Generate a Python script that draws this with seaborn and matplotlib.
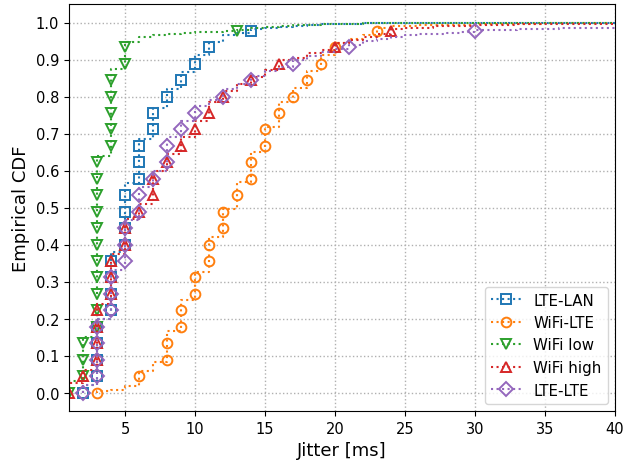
import numpy as np
import pandas as pd
import matplotlib
matplotlib.use("Agg")
import matplotlib.pyplot as plt
import seaborn as sns
from matplotlib.lines import Line2D

# ---------------- data ----------------
series_names = ["LTE-LAN", "WiFi-LTE", "WiFi low", "WiFi high", "LTE-LTE"]

# quantile levels at which markers are drawn
marker_levels = [0.0, 0.044, 0.089, 0.133, 0.178, 0.222, 0.267, 0.311, 0.356,
                 0.4, 0.444, 0.489, 0.533, 0.578, 0.622, 0.667, 0.711, 0.756,
                 0.8, 0.844, 0.889, 0.933, 0.978]

# jitter value at each marker level
lte_lan_mx = [2, 3, 3, 3, 3, 4, 4, 4, 4, 5, 5, 5, 5, 6, 6, 6, 7, 7, 8, 9, 10, 11, 14]
wifi_lte_mx = [3, 6, 8, 8, 9, 9, 10, 10, 11, 11, 12, 12, 13, 14, 14, 15, 15, 16, 17, 18, 19, 20, 23]
wifi_low_mx = [1, 2, 2, 2, 3, 3, 3, 3, 3, 3, 3, 3, 3, 3, 3, 4, 4, 4, 4, 4, 5, 5, 13]
wifi_high_mx = [1, 2, 3, 3, 3, 3, 4, 4, 4, 5, 5, 6, 7, 7, 8, 9, 10, 11, 12, 14, 16, 20, 24]
lte_lte_mx = [2, 3, 3, 3, 3, 4, 4, 4, 5, 5, 5, 6, 6, 7, 8, 8, 9, 10, 12, 14, 17, 21, 30]

# empirical CDF step function: distinct jitter values and cumulative fraction
lte_lan_vals = [2, 3, 4, 5, 6, 7, 8, 9, 10, 11, 12, 13, 14, 15, 16, 17, 18, 19, 20, 22, 25, 30]
lte_lan_cdf = [0.02, 0.2, 0.38, 0.565, 0.685, 0.77, 0.82, 0.865, 0.913, 0.946, 0.965,
               0.972, 0.982, 0.985, 0.988, 0.99, 0.992, 0.995, 0.997, 0.998, 0.999, 1.0]

wifi_lte_vals = [3, 4, 5, 6, 7, 8, 9, 10, 11, 12, 13, 14, 15, 16, 17, 18, 19, 20, 21, 22,
                 23, 24, 26, 30, 35, 40]
wifi_lte_cdf = [0.004, 0.006, 0.017, 0.058, 0.083, 0.165, 0.249, 0.325, 0.419, 0.495,
                0.568, 0.65, 0.717, 0.784, 0.824, 0.868, 0.913, 0.945, 0.955, 0.965,
                0.985, 0.99, 0.993, 0.996, 0.998, 0.999]

wifi_low_vals = [1, 2, 3, 4, 5, 6, 7, 8, 9, 10, 11, 12, 13, 14, 15, 16, 17, 18, 19, 20,
                 22, 25, 30]
wifi_low_cdf = [0.03, 0.15, 0.64, 0.875, 0.947, 0.962, 0.966, 0.969, 0.971, 0.973, 0.975,
                0.977, 0.98, 0.985, 0.988, 0.99, 0.992, 0.994, 0.996, 0.997, 0.998,
                0.999, 1.0]

wifi_high_vals = [1, 2, 3, 4, 5, 6, 7, 8, 9, 10, 11, 12, 13, 14, 15, 16, 17, 18, 19, 20,
                  21, 22, 23, 24, 25, 27, 30, 33, 36, 40]
wifi_high_cdf = [0.025, 0.062, 0.24, 0.375, 0.47, 0.51, 0.6, 0.645, 0.69, 0.735, 0.785,
                 0.815, 0.835, 0.852, 0.872, 0.9, 0.905, 0.918, 0.925, 0.945, 0.952,
                 0.96, 0.97, 0.982, 0.985, 0.99, 0.993, 0.995, 0.997, 0.998]

lte_lte_vals = [2, 3, 4, 5, 6, 7, 8, 9, 10, 11, 12, 13, 14, 15, 16, 17, 18, 19, 20, 21,
                22, 23, 24, 25, 26, 28, 29, 30, 33, 36, 40]
lte_lte_cdf = [0.02, 0.2, 0.33, 0.465, 0.555, 0.6, 0.69, 0.735, 0.775, 0.79, 0.82, 0.835,
               0.855, 0.87, 0.88, 0.9, 0.91, 0.92, 0.928, 0.94, 0.95, 0.955, 0.96, 0.965,
               0.968, 0.972, 0.975, 0.98, 0.983, 0.986, 0.988]

# ---------------- styling ----------------
colors = ["tab:blue", "tab:orange", "tab:green", "tab:red", "tab:purple"]
markers = ["s", "o", "v", "^", "D"]
X_MIN, X_MAX = 1, 40
X_END = 41  # carry last step past the right edge
MS = 7
MEW = 1.4

line_data = [(lte_lan_vals, lte_lan_cdf), (wifi_lte_vals, wifi_lte_cdf),
             (wifi_low_vals, wifi_low_cdf), (wifi_high_vals, wifi_high_cdf),
             (lte_lte_vals, lte_lte_cdf)]
mark_data = [lte_lan_mx, wifi_lte_mx, wifi_low_mx, wifi_high_mx, lte_lte_mx]

plt.rcParams["font.family"] = ["DejaVu Sans"]
fig = plt.figure(figsize=(6.24, 4.64), dpi=100)
ax = fig.add_axes([69 / 624, 1 - 412 / 464, (615 - 69) / 624, (412 - 5) / 464])

for name, (vals, cdf), mx, c, m in zip(series_names, line_data, mark_data, colors, markers):
    lx = [vals[0]] + list(vals) + [X_END]
    ly = [0.0] + list(cdf) + [cdf[-1]]
    df_line = pd.DataFrame({"x": lx, "y": ly})
    sns.lineplot(data=df_line, x="x", y="y", estimator=None, sort=False, ax=ax,
                 color=c, linestyle=":", linewidth=1.5, drawstyle="steps-post")
    df_mark = pd.DataFrame({"x": mx, "y": marker_levels})
    sns.lineplot(data=df_mark, x="x", y="y", estimator=None, sort=False, ax=ax,
                 color=c, linestyle="", marker=m, markersize=MS,
                 markerfacecolor="none", markeredgecolor=c, markeredgewidth=MEW)

ax.set_xlim(X_MIN, X_MAX)
ax.set_ylim(-0.05, 1.05)
ax.set_xticks([5, 10, 15, 20, 25, 30, 35, 40])
ax.set_yticks([0.0, 0.1, 0.2, 0.3, 0.4, 0.5, 0.6, 0.7, 0.8, 0.9, 1.0])
ax.grid(True, linestyle=":", color="#b0b0b0", linewidth=1.0)
ax.set_axisbelow(True)
ax.set_xlabel("Jitter [ms]", fontsize=13)
ax.set_ylabel("Empirical CDF", fontsize=13)
ax.tick_params(labelsize=10.5)

handles = [Line2D([], [], color=c, linestyle=":", linewidth=1.5, marker=m, markersize=MS,
                  markerfacecolor="none", markeredgecolor=c, markeredgewidth=MEW)
           for c, m in zip(colors, markers)]
ax.legend(handles, series_names, loc="lower right", fontsize=10.8)

fig.savefig("out.png", dpi=100)
